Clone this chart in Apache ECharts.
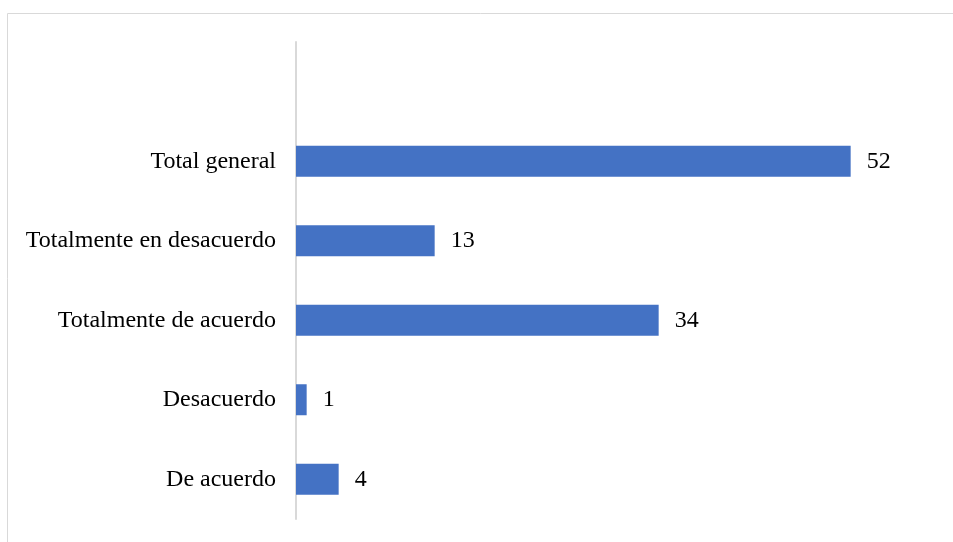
<!DOCTYPE html>
<html>
<head>
<meta charset="utf-8">
<script src="https://cdn.jsdelivr.net/npm/echarts@6/dist/echarts.min.js"></script>
<style>html,body{margin:0;padding:0;background:#fff}#c{width:953px;height:542px}</style>
</head>
<body>
<div id="c"></div>
<script>
const categories = ["De acuerdo", "Desacuerdo", "Totalmente de acuerdo", "Totalmente en desacuerdo", "Total general", ""];
const values = [4, 1, 34, 13, 52, null];

const chart = echarts.init(document.getElementById('c'));
chart.setOption({
  animation: false,
  graphic: [{
    type: 'rect',
    shape: { x: 7.5, y: 13.5, width: 1000, height: 600 },
    style: { fill: 'none', stroke: '#d9d9d9', lineWidth: 1 },
    silent: true
  }],
  grid: { left: 296, right: 17, top: 42, bottom: 23, containLabel: false },
  xAxis: {
    type: 'value', min: 0, max: 60, show: false
  },
  yAxis: {
    type: 'category',
    data: categories,
    axisLine: { show: true, lineStyle: { color: '#d9d9d9', width: 2 } },
    axisTick: { show: false },
    axisLabel: { fontFamily: 'Liberation Serif', fontSize: 24, color: '#000', margin: 20 }
  },
  series: [{
    type: 'bar',
    data: values,
    barWidth: 31,
    itemStyle: { color: '#4472C4' },
    label: {
      show: true, position: 'right', distance: 16,
      fontFamily: 'Liberation Serif', fontSize: 24, color: '#000'
    }
  }]
});
</script>
</body>
</html>
